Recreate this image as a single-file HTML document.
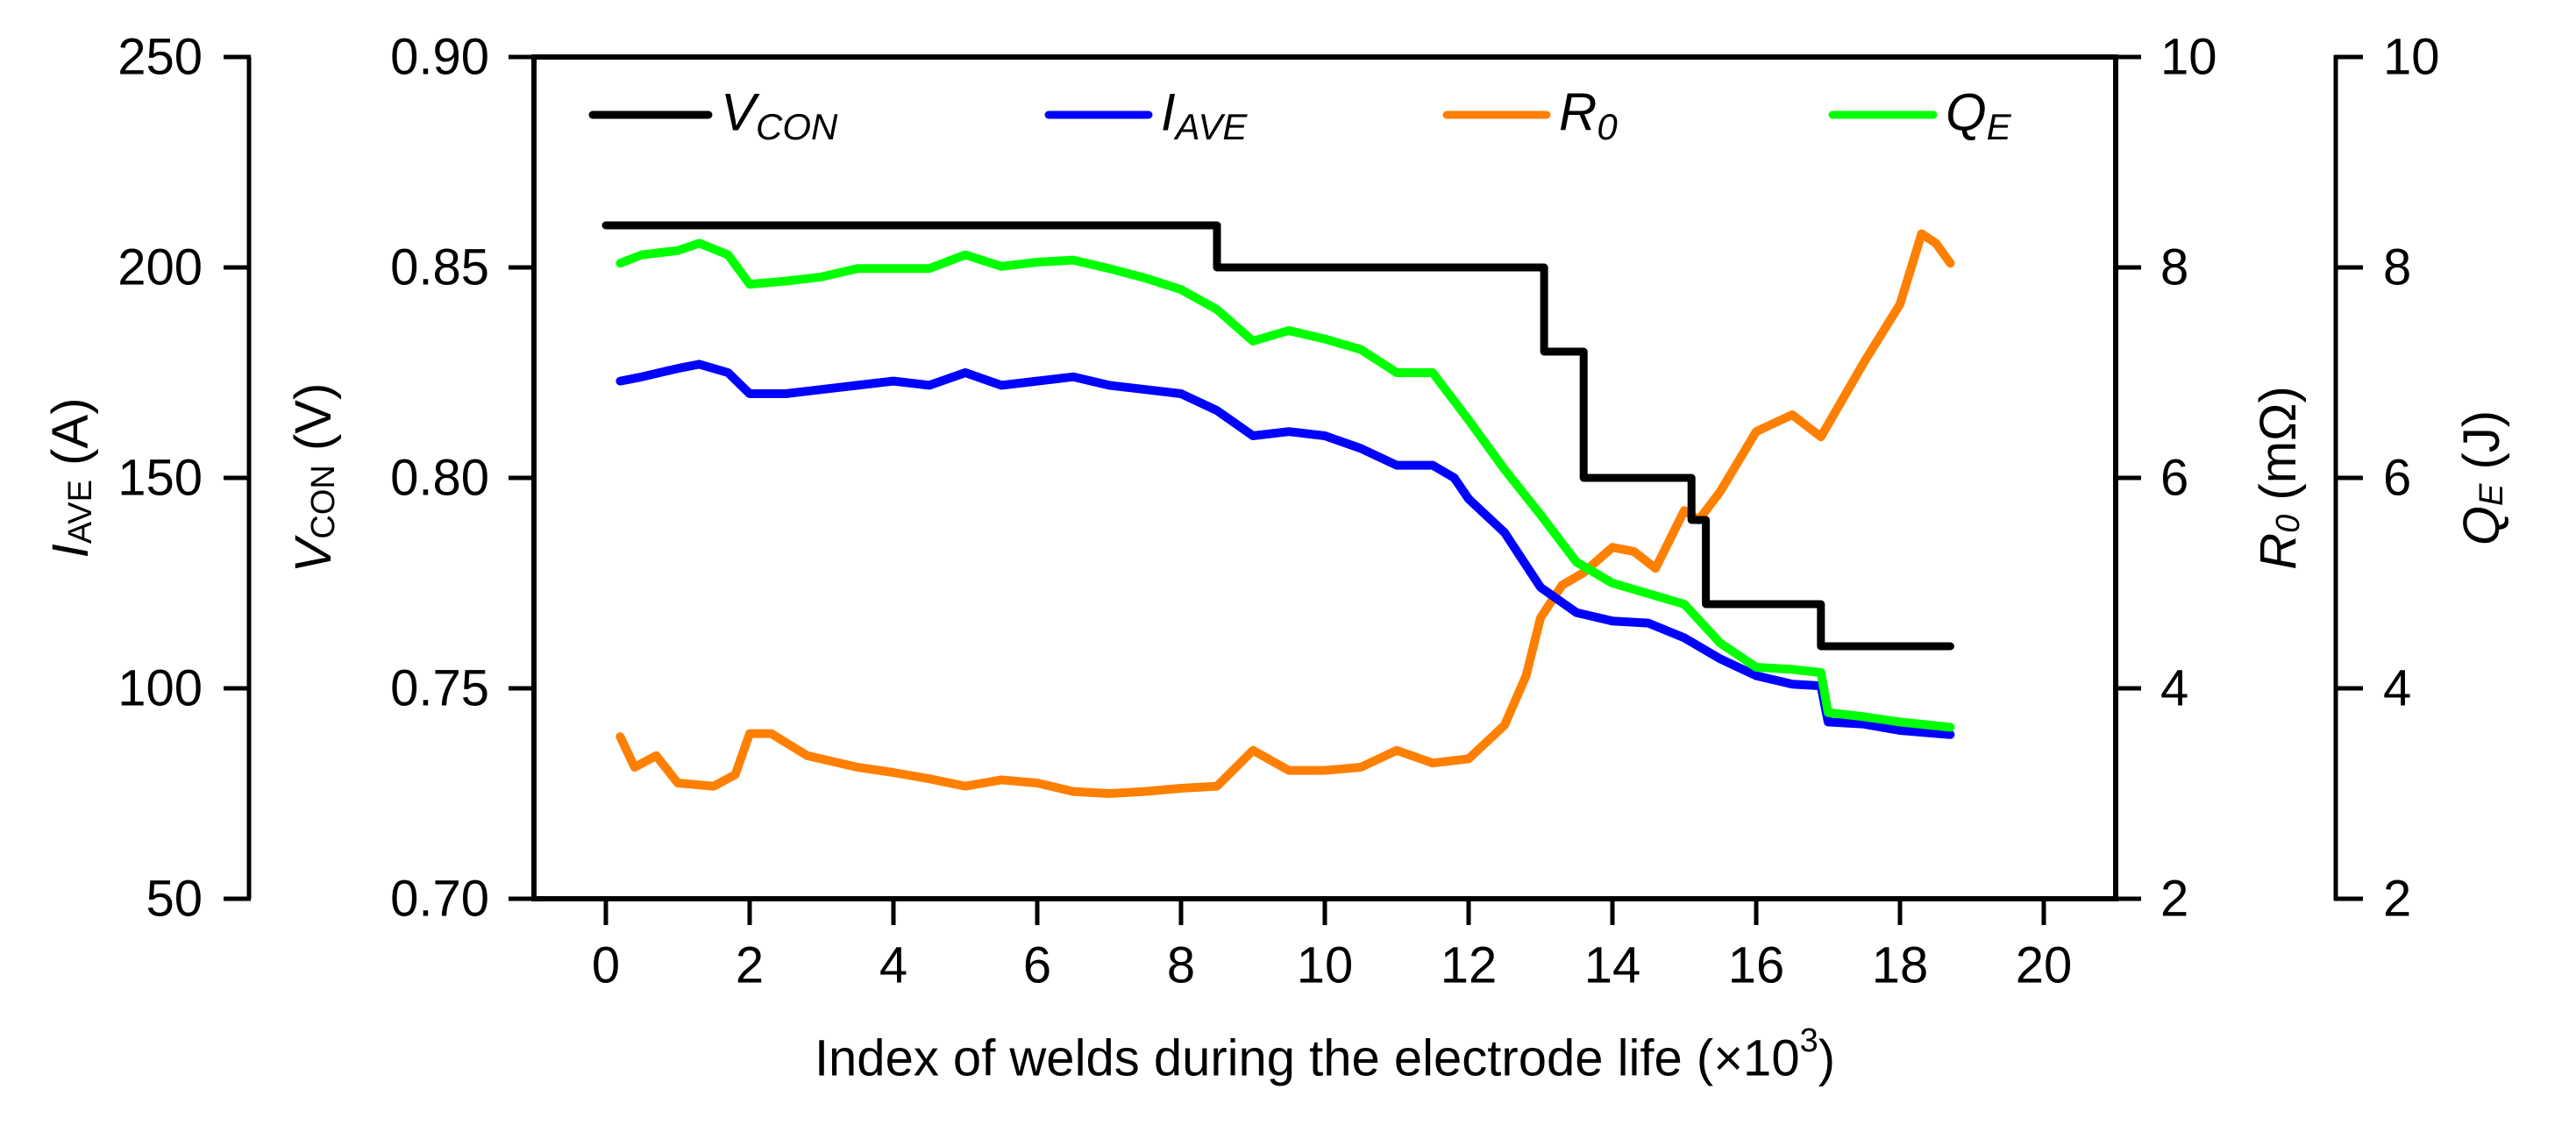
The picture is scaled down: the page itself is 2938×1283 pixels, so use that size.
<!DOCTYPE html>
<html><head><meta charset="utf-8"><style>
html,body{margin:0;padding:0;background:#fff}
svg{display:block}
text{font-family:"Liberation Sans",Arial,sans-serif;fill:#000}
</style></head><body>
<svg id="chart" width="2938" height="1283" viewBox="0 0 2938 1283" xmlns="http://www.w3.org/2000/svg"></svg>
<script>
const xTicks=[0,2,4,6,8,10,12,14,16,18,20];
const iTicks=[50,100,150,200,250];
const vTicks=["0.70","0.75","0.80","0.85","0.90"];
const rTicks=[2,4,6,8,10];
const qTicks=[2,4,6,8,10];
const vX=[0,8.5,8.5,13.05,13.05,13.6,13.6,15.1,15.1,15.3,15.3,16.9,16.9,18.7];
const vY=[0.86,0.86,0.85,0.85,0.83,0.83,0.80,0.80,0.79,0.79,0.77,0.77,0.76,0.76];
const iX=[0.2,0.5,1.0,1.3,1.7,2.0,2.5,3,3.5,4,4.5,5,5.5,6,6.5,7,7.5,8,8.5,9,9.5,10,10.5,11,11.5,11.8,12,12.5,13,13.5,14,14.5,15,15.5,16,16.5,16.9,17,17.5,18,18.7];
const iY=[173,174,176,177,175,170,170,171,172,173,172,175,172,173,174,172,171,170,166,160,161,160,157,153,153,150,145,137,124,118,116,115.5,112,107,103,101,100.6,92,91.5,90,89];
const qX=[0.2,0.5,1.0,1.3,1.7,2.0,2.5,3,3.5,4,4.5,5,5.5,6,6.5,7,7.5,8,8.5,9,9.5,10,10.5,11,11.5,12,12.5,13,13.5,14,14.5,15,15.5,16,16.5,16.9,17,17.5,18,18.7];
const qY=[8.04,8.12,8.16,8.23,8.12,7.84,7.87,7.91,7.99,7.99,7.99,8.12,8.01,8.05,8.07,7.99,7.9,7.79,7.6,7.3,7.4,7.32,7.22,7.0,7.0,6.55,6.08,5.65,5.2,5.0,4.9,4.8,4.43,4.2,4.18,4.15,3.77,3.73,3.68,3.63];
const rX=[0.2,0.4,0.7,1.0,1.5,1.8,2.0,2.3,2.8,3.5,4,4.5,5,5.5,6,6.5,7,7.5,8,8.5,9,9.5,10,10.5,11,11.5,12,12.5,12.8,13,13.3,13.6,14,14.3,14.6,15,15.2,15.5,16,16.5,16.9,17.5,18,18.3,18.5,18.7];
const rY=[3.54,3.25,3.36,3.1,3.07,3.18,3.57,3.57,3.36,3.25,3.2,3.14,3.07,3.13,3.1,3.02,3.0,3.02,3.05,3.07,3.41,3.22,3.22,3.25,3.41,3.29,3.33,3.65,4.12,4.67,4.98,5.1,5.34,5.3,5.14,5.69,5.6,5.87,6.44,6.6,6.39,7.1,7.65,8.32,8.23,8.04];

const svg=document.getElementById('chart');
const NS='http://www.w3.org/2000/svg';
const TOP=65,BOT=1025,PL=609,PR=2413;
const xs=v=>691+v*82;
const lin=(a,b)=>v=>BOT-(v-a)/(b-a)*(BOT-TOP);
const yI=lin(50,250),yV=lin(0.7,0.9),yR=lin(2,10),yQ=lin(2,10);
function mk(tag,attrs,txt){const e=document.createElementNS(NS,tag);for(const k in attrs)e.setAttribute(k,attrs[k]);if(txt!==undefined)e.textContent=txt;svg.appendChild(e);return e;}
function line(x1,y1,x2,y2,w,name){const e=mk('line',{x1,y1,x2,y2,stroke:'#000','stroke-width':w});

return e;}
function txt(x,y,s,anchor,size,name){const e=mk('text',{x,y,'text-anchor':anchor,'font-size':size,'dominant-baseline':'central'},s);

return e;}

line(PL,TOP,PL,BOT,6,'left-plot-axis');
line(PR,TOP,PR,BOT,6,'right-plot-axis');
line(PL-3,TOP,PR+3,TOP,6,'top-border');
line(PL-3,BOT,PR+3,BOT,6,'x-axis');
line(284,TOP,284,BOT,5,'i-ave-axis');
iTicks.forEach(t=>{line(255,yI(t),286,yI(t),5,'i-ave-tick');txt(231,yI(t),String(t),'end',58,'i-ave-tick-label');});
vTicks.forEach(t=>{line(580,yV(+t),PL,yV(+t),5,'v-con-tick');txt(558,yV(+t),t,'end',58,'v-con-tick-label');});
rTicks.forEach(t=>{line(PR,yR(t),2442,yR(t),5,'r0-tick');txt(2464,yR(t),String(t),'start',58,'r0-tick-label');});
line(2664,TOP-2,2664,BOT+2,5,'q-e-axis');
qTicks.forEach(t=>{line(2662,yQ(t),2695,yQ(t),5,'q-e-tick');txt(2718,yQ(t),String(t),'start',58,'q-e-tick-label');});
xTicks.forEach(t=>{line(xs(t),BOT,xs(t),1055,5,'x-tick');txt(xs(t),1101,String(t),'middle',58,'x-tick-label');});

let g;
g=mk('text',{transform:'translate(80,545) rotate(-90)','text-anchor':'middle','font-size':58,'dominant-baseline':'central'});


g.innerHTML='<tspan font-style="italic">I</tspan><tspan font-size="38" dy="12">AVE</tspan><tspan dy="-12"> (A)</tspan>';
g=mk('text',{transform:'translate(357,545) rotate(-90)','text-anchor':'middle','font-size':58,'dominant-baseline':'central'});


g.innerHTML='<tspan font-style="italic">V</tspan><tspan font-size="38" dy="12">CON</tspan><tspan dy="-12"> (V)</tspan>';
g=mk('text',{transform:'translate(2598,545) rotate(-90)','text-anchor':'middle','font-size':58,'dominant-baseline':'central'});


g.innerHTML='<tspan font-style="italic">R</tspan><tspan font-size="38" font-style="italic" dy="12">0</tspan><tspan dy="-12"> (mΩ)</tspan>';
g=mk('text',{transform:'translate(2830,545) rotate(-90)','text-anchor':'middle','font-size':58,'dominant-baseline':'central'});


g.innerHTML='<tspan font-style="italic">Q</tspan><tspan font-size="38" font-style="italic" dy="12">E</tspan><tspan dy="-12"> (J)</tspan>';
g=mk('text',{x:1511,y:1207,'text-anchor':'middle','font-size':58,'dominant-baseline':'central'});


g.innerHTML='Index of welds during the electrode life (×10<tspan font-size="38" dy="-20">3</tspan><tspan dy="20">)</tspan>';

function series(X,Y,yf,color,w,name){const d=X.map((x,i)=>(i?'L':'M')+xs(x).toFixed(1)+' '+yf(Y[i]).toFixed(1)).join(' ');
const p=mk('path',{d,fill:'none',stroke:color,'stroke-width':w,'stroke-linejoin':'round','stroke-linecap':'round'});

}
series(rX,rY,yR,'#ff7f00',10,'r0-line');
series(iX,iY,yI,'#0000ff',10,'i-ave-line');
series(qX,qY,yQ,'#00ff00',10,'q-e-line');
series(vX,vY,yV,'#000000',9,'v-con-line');

function leg(x1,x2,color,main,sub,name){const l=mk('line',{x1,y1:131,x2,y2:131,stroke:color,'stroke-width':9,'stroke-linecap':'round'});


const t=mk('text',{x:x2+14,y:128,'font-size':60,'font-style':'italic','dominant-baseline':'central'});


t.innerHTML=main+'<tspan font-size="42" dy="16">'+sub+'</tspan>';}
leg(676,808,'#000','V','CON','legend-v-con');
leg(1196,1310,'#0000ff','I','AVE','legend-i-ave');
leg(1650,1764,'#ff7f00','R','0','legend-r0');
leg(2090,2205,'#00ff00','Q','E','legend-q-e');
</script>
</body></html>
